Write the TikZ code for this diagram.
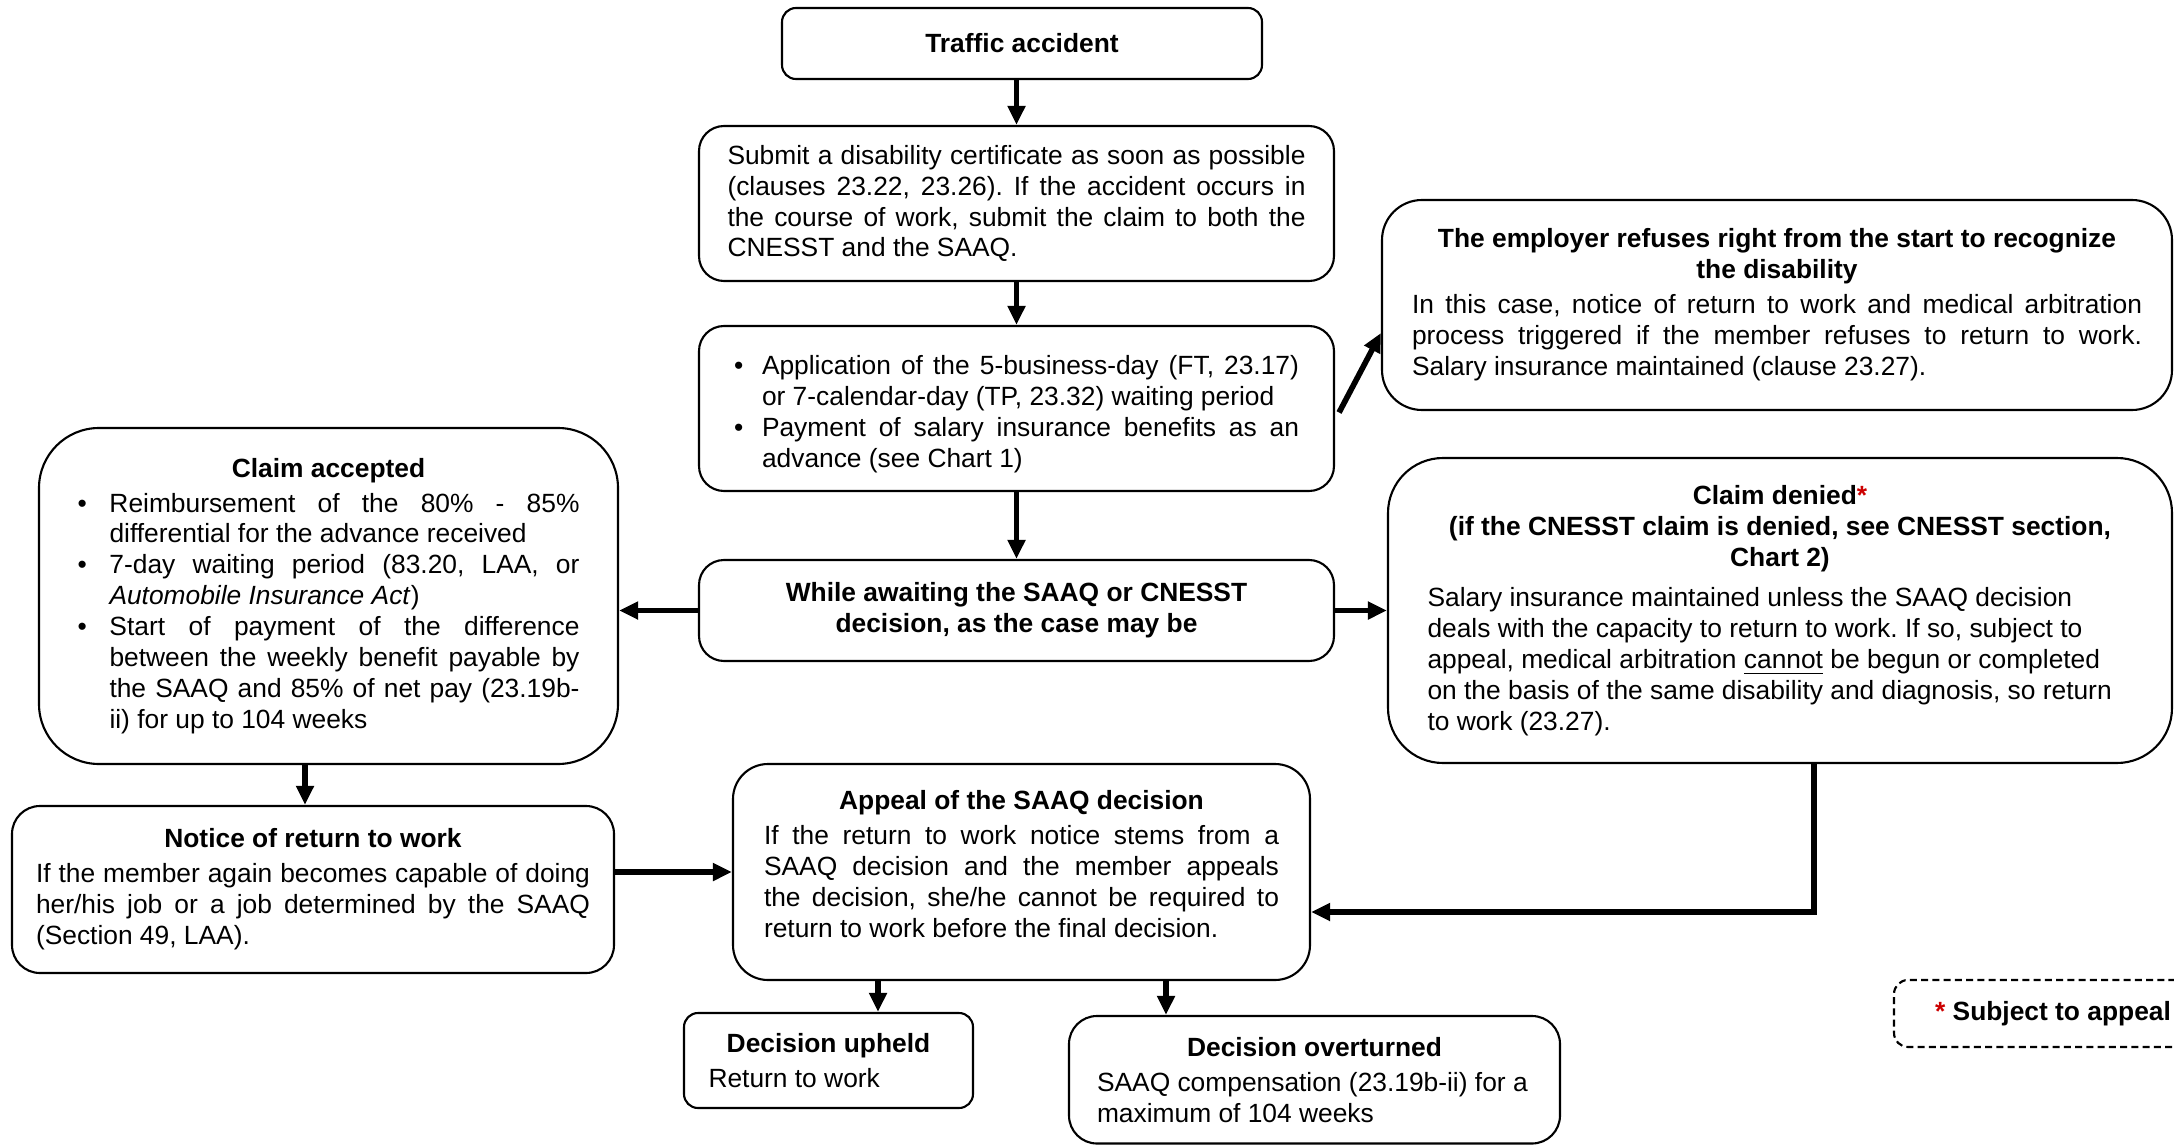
\documentclass[tikz,border=0pt]{standalone}
\usepackage{fontspec}
\setmainfont{Liberation Sans}
\usepackage{xcolor}
\usepackage{tikz}
\usetikzlibrary{arrows.meta, positioning, calc}

\definecolor{starred}{RGB}{204,0,0}
\setlength{\parindent}{0pt}
\frenchspacing
\newcommand{\boxfont}{\fontsize{7.5pt}{8.8pt}\selectfont}
\newcommand{\boxtitle}[1]{{\centering\bfseries #1\par}\vspace{0.4mm}}
\newcommand{\bpoint}[2][2.8mm]{\par\hangindent=#1\hangafter=1\noindent\makebox[#1][l]{\textbullet}#2\par}

\begin{document}
\begin{tikzpicture}[
	  x=0.1mm, y=-0.1mm,
	  font=\boxfont,
	  box/.style={
	    draw,
	    line width=0.6pt,
	    rounded corners=2.5mm,
	    inner sep=1mm,
	    align=justify
	  },
	  arrow/.style={-{Triangle[length=1.9mm,width=1.7mm]}, line width=1.6pt}
	]
	
	\useasboundingbox (0,0) rectangle (2174,1145);
	\clip (0,0) rectangle (2174,1145);
	
	\node[box, rounded corners=1.4mm, minimum width=48mm, minimum height=7.1mm] (traffic) at (1022,43.5) {\bfseries Traffic accident};
	\node[box, text width=57.8mm, minimum width=63.5mm, minimum height=15.5mm] (submit) at (1016.5,203.5) {Submit a disability certificate as soon as possible\linebreak (clauses 23.22, 23.26). If the accident occurs in\linebreak the course of work, submit the claim to both the\linebreak CNESST and the SAAQ.};
	\node[box, text width=56.5mm, minimum width=63.5mm, minimum height=16.5mm] (apply) at (1016.5,408.5) {\bpoint{Application of the 5-business-day (FT, 23.17)\linebreak or 7-calendar-day (TP, 23.32) waiting period}\bpoint{Payment of salary insurance benefits as an\linebreak advance (see Chart 1)}};
	\node[box, align=center, font=\boxfont\bfseries, minimum width=63.5mm, minimum height=10.1mm] (await) at (1016.5,610.5) {While awaiting the SAAQ or CNESST\\decision, as the case may be};
	
	\node[box, rounded corners=4mm, text width=73mm, minimum width=79mm, minimum height=21mm] (refuse) at (1777,305) {\boxtitle{The employer refuses right from the start to recognize\\the disability}In this case, notice of return to work and medical arbitration\linebreak process triggered if the member refuses to return to work.\linebreak Salary insurance maintained (clause 23.27).};
	\node[box, rounded corners=5.5mm, text width=70.5mm, minimum width=78.4mm, minimum height=30.5mm] (denied) at (1780,610.5) {\boxtitle{Claim denied\textcolor{starred}{*}\\(if the CNESST claim is denied, see CNESST section,\\Chart 2)}\vspace{0.5mm}{\raggedright Salary insurance maintained unless the SAAQ decision\\deals with the capacity to return to work. If so, subject to\\appeal, medical arbitration \underline{cannot} be begun or completed\\on the basis of the same disability and diagnosis, so return\\to work (23.27).\par}};
	
	\node[box, rounded corners=6mm, text width=50.2mm, minimum width=57.9mm, minimum height=33.6mm] (accepted) at (328.5,596) {\boxtitle{Claim accepted}\bpoint[3.2mm]{Reimbursement of the 80\% - 85\%\linebreak differential for the advance received}\bpoint[3.2mm]{7-day waiting period (83.20, LAA, or\linebreak \textit{Automobile Insurance Act})}\bpoint[3.2mm]{Start of payment of the difference\linebreak between the weekly benefit payable by\linebreak the SAAQ and 85\% of net pay (23.19b-\linebreak ii) for up to 104 weeks}};
	\node[box, rounded corners=2.8mm, text width=55.4mm, minimum width=60.2mm, minimum height=16.7mm] (notice) at (313,889.5) {\boxtitle{Notice of return to work}If the member again becomes capable of doing\linebreak her/his job or a job determined by the SAAQ\linebreak (Section 49, LAA).};
	\node[box, rounded corners=3.5mm, text width=51.5mm, minimum width=57.7mm, minimum height=21.6mm] (appeal) at (1021.5,872) {\boxtitle{Appeal of the SAAQ decision}If the return to work notice stems from a\linebreak SAAQ decision and the member appeals\linebreak the decision, she/he cannot be required to\linebreak return to work before the final decision.\par\vspace{-1.5mm}\hbox{}};
	
	\node[box, rounded corners=1.4mm, text width=24mm, minimum width=28.9mm, minimum height=9.5mm] (upheld) at (828.5,1060.5) {\boxtitle{Decision upheld}Return to work};
	\node[box, rounded corners=2.8mm, text width=43.5mm, minimum width=49.1mm, minimum height=12.75mm] (overturned) at (1314.5,1079.75) {\boxtitle{Decision overturned}{\raggedright SAAQ compensation (23.19b-ii) for a\\maximum of 104 weeks\par}};
	
	\node[box, dash pattern=on 2pt off 1.2pt, rounded corners=1.4mm, align=center, minimum width=31.8mm, minimum height=6.7mm] (legend) at (2053,1013.5) {\textcolor{starred}{\bfseries *} \textbf{Subject to appeal}};
	
	\draw[arrow] (submit.north |- traffic.south) -- (submit.north);
	\draw[arrow] (submit) -- (apply);
	\draw[arrow] (apply) -- (await);
	\draw[arrow] ([xshift=0.4mm,yshift=-0.4mm]apply.east) -- ([yshift=-2.8mm]refuse.west);
	\draw[arrow] (await.west) -- (await.west -| accepted.east);
	\draw[arrow] (await.east) -- (await.east -| denied.west);
	\draw[arrow] ([xshift=-0.8mm]notice.north |- accepted.south) -- ([xshift=-0.8mm]notice.north);
	\draw[arrow] (appeal.west -| notice.east) -- (appeal.west);
	\draw[arrow] ([xshift=3.4mm]denied.south) |- ([yshift=-4mm]appeal.east);
	\draw[arrow] ([xshift=-14.35mm]appeal.south) -- ([xshift=-14.35mm]appeal.south |- upheld.north);
	\draw[arrow] ([xshift=14.45mm]appeal.south) -- ([xshift=14.45mm]appeal.south |- overturned.north);
	
	\end{tikzpicture}
\end{document}
